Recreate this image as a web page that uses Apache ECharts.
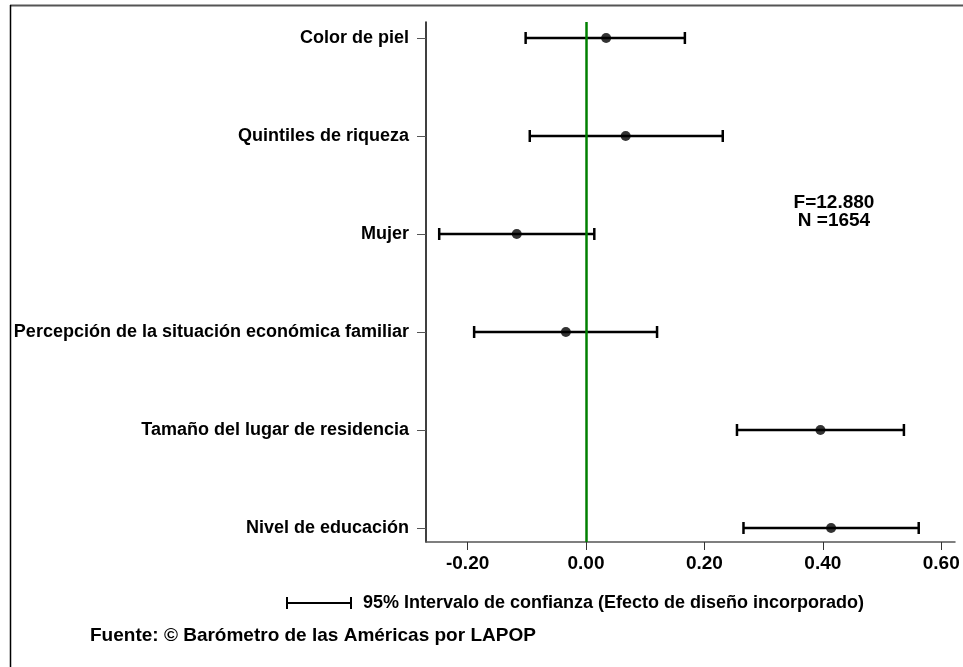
<!DOCTYPE html>
<html>
<head>
<meta charset="utf-8">
<script src="https://cdn.jsdelivr.net/npm/echarts@6/dist/echarts.min.js"></script>
<style>
  html, body { margin: 0; padding: 0; background: #fff; }
  #chart { width: 963px; height: 667px; }
</style>
</head>
<body>
<div id="chart"></div>
<script>
// datos
const categories = [
  'Color de piel',
  'Quintiles de riqueza',
  'Mujer',
  'Percepción de la situación económica familiar',
  'Tamaño del lugar de residencia',
  'Nivel de educación'
]
const coef = [0.034, 0.067, -0.117, -0.034, 0.396, 0.414]
const lower = [-0.102, -0.095, -0.248, -0.189, 0.255, 0.266]
const upper = [0.167, 0.231, 0.014, 0.120, 0.537, 0.562]
const xTicks = [-0.2, 0, 0.2, 0.4, 0.6]
const statsText = ['F=12.880', 'N =1654']

const FONT = '"Liberation Sans", Arial, sans-serif'
const positions = categories.map((_, i) => i + 1)

const chart = echarts.init(document.getElementById('chart'), null, { renderer: 'canvas' })

// barras de intervalo de confianza
const renderCI = (params, api) => {
  const y = api.value(0)
  const lo = api.coord([api.value(1), y])
  const hi = api.coord([api.value(2), y])
  const cap = 6
  const style = { stroke: '#000', lineWidth: 2.5 }
  return {
    type: 'group',
    children: [
      { type: 'line', shape: { x1: lo[0], y1: lo[1], x2: hi[0], y2: hi[1] }, style },
      { type: 'line', shape: { x1: lo[0], y1: lo[1] - cap, x2: lo[0], y2: lo[1] + cap }, style },
      { type: 'line', shape: { x1: hi[0], y1: hi[1] - cap, x2: hi[0], y2: hi[1] + cap }, style }
    ]
  }
}

chart.setOption({
  animation: false,
  backgroundColor: '#fff',
  grid: { left: 426, right: 8, top: 22, bottom: 125 },
  xAxis: {
    type: 'value',
    min: -0.2703,
    max: 0.6233,
    axisLine: { onZero: false, lineStyle: { color: '#555', width: 1.5 } },
    axisTick: { customValues: xTicks, length: 8, lineStyle: { color: '#333' } },
    axisLabel: {
      customValues: xTicks,
      formatter: v => v.toFixed(2),
      margin: 12,
      color: '#000',
      fontFamily: FONT,
      fontWeight: 'bold',
      fontSize: 19
    },
    splitLine: { show: false }
  },
  yAxis: {
    type: 'value',
    inverse: true,
    min: 0.837,
    max: 6.143,
    axisLine: { show: true, onZero: false, lineStyle: { color: '#000', width: 1.5 } },
    axisTick: { show: true, customValues: positions, length: 9, lineStyle: { color: '#555' } },
    axisLabel: {
      customValues: positions,
      formatter: v => categories[Math.round(v) - 1] || '',
      margin: 17,
      color: '#000',
      fontFamily: FONT,
      fontWeight: 'bold',
      fontSize: 18
    },
    splitLine: { show: false }
  },
  series: [
    {
      type: 'custom',
      renderItem: renderCI,
      encode: { x: [1, 2], y: 0 },
      data: positions.map((p, i) => [p, lower[i], upper[i]]),
      z: 3
    },
    {
      type: 'scatter',
      symbol: 'circle',
      symbolSize: 10,
      itemStyle: { color: '#000' },
      data: positions.map((p, i) => [coef[i], p]),
      z: 4,
      markLine: {
        silent: true,
        symbol: 'none',
        label: { show: false },
        lineStyle: { color: '#008000', width: 2.5, type: 'solid' },
        data: [{ xAxis: 0 }]
      }
    }
  ],
  graphic: [
    // marco
    { type: 'line', shape: { x1: 10, y1: 5.5, x2: 963, y2: 5.5 }, style: { stroke: '#555', lineWidth: 2 } },
    { type: 'line', shape: { x1: 10.5, y1: 5, x2: 10.5, y2: 667 }, style: { stroke: '#000', lineWidth: 1.5 } },
    // estadísticos
    {
      type: 'text', x: 834, y: 203,
      style: { text: statsText[0], font: `bold 19px ${FONT}`, fill: '#000', align: 'center', verticalAlign: 'middle' }
    },
    {
      type: 'text', x: 834, y: 221,
      style: { text: statsText[1], font: `bold 19px ${FONT}`, fill: '#000', align: 'center', verticalAlign: 'middle' }
    },
    // leyenda
    { type: 'line', shape: { x1: 287, y1: 603, x2: 351, y2: 603 }, style: { stroke: '#000', lineWidth: 2 } },
    { type: 'line', shape: { x1: 287, y1: 597, x2: 287, y2: 609 }, style: { stroke: '#000', lineWidth: 2 } },
    { type: 'line', shape: { x1: 351, y1: 597, x2: 351, y2: 609 }, style: { stroke: '#000', lineWidth: 2 } },
    {
      type: 'text', x: 363, y: 603,
      style: { text: '95% Intervalo de confianza (Efecto de diseño incorporado)', font: `bold 18px ${FONT}`, fill: '#000', verticalAlign: 'middle' }
    },
    {
      type: 'text', x: 90, y: 636,
      style: { text: 'Fuente: © Barómetro de las Américas por LAPOP', font: `bold 19px ${FONT}`, fill: '#000', verticalAlign: 'middle' }
    }
  ]
})
</script>
</body>
</html>
